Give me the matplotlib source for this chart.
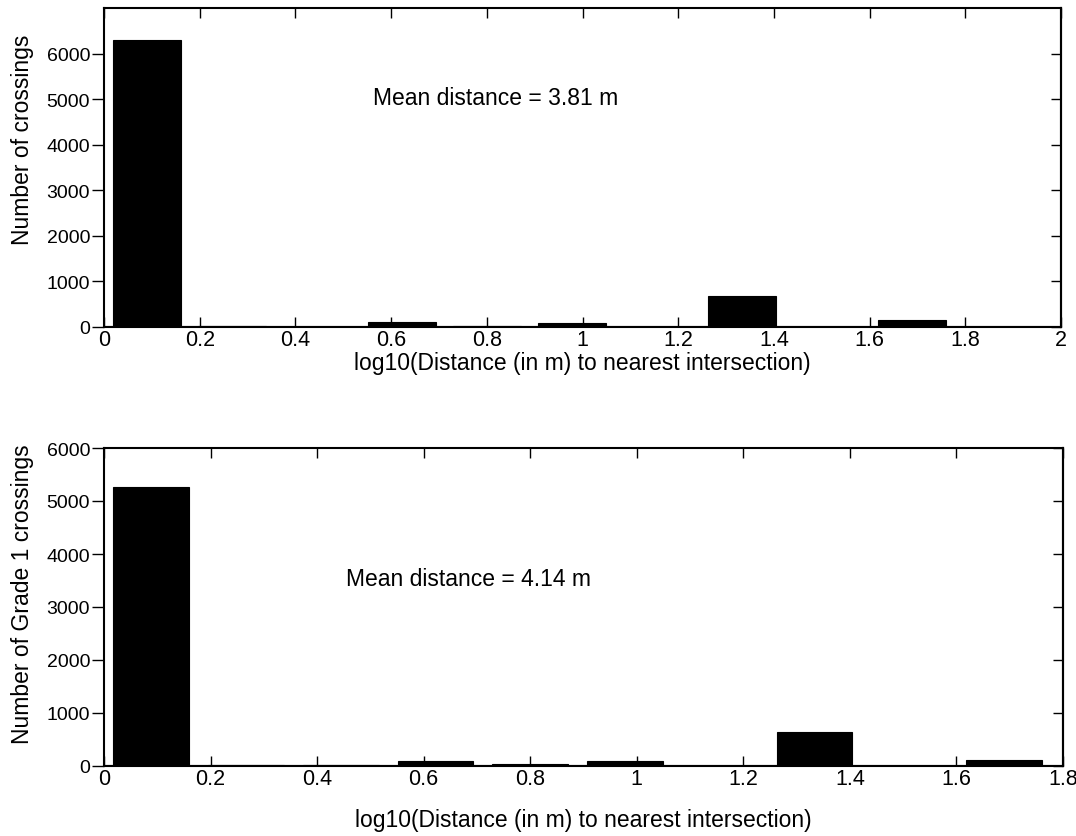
import matplotlib
matplotlib.use("Agg")
import matplotlib.pyplot as plt
import numpy as np

plt.rcParams['font.family'] = ['Liberation Sans', 'DejaVu Sans']

# histogram bin centres (log10 distance), 10 bins
bin_centers = [0.0889, 0.2667, 0.4445, 0.6223, 0.8001, 0.9779, 1.1557, 1.3335, 1.5113, 1.6891]
bin_width = 0.1778

counts_all = [6300, 15, 10, 100, 30, 90, 5, 690, 5, 160]
counts_grade1 = [5270, 10, 10, 100, 30, 100, 5, 640, 5, 120]

xticks_top = [0, 0.2, 0.4, 0.6, 0.8, 1, 1.2, 1.4, 1.6, 1.8, 2]
xticklabels_top = ["0", "0.2", "0.4", "0.6", "0.8", "1", "1.2", "1.4", "1.6", "1.8", "2"]
xticks_bot = [0, 0.2, 0.4, 0.6, 0.8, 1, 1.2, 1.4, 1.6, 1.8]
xticklabels_bot = ["0", "0.2", "0.4", "0.6", "0.8", "1", "1.2", "1.4", "1.6", "1.8"]
yticks_top = [0, 1000, 2000, 3000, 4000, 5000, 6000]
yticks_bot = [0, 1000, 2000, 3000, 4000, 5000, 6000]

xlabel = "log10(Distance (in m) to nearest intersection)"
ylabel_top = "Number of crossings"
ylabel_bot = "Number of Grade 1 crossings"
note_top = "Mean distance = 3.81 m"
note_bot = "Mean distance = 4.14 m"

fig = plt.figure(figsize=(10.76, 8.37), dpi=100)
ax1 = fig.add_axes([104/1076, 1-328/837, 957/1076, 319/837])
ax2 = fig.add_axes([104/1076, 1-767/837, 959/1076, 318/837])

XTFS = 15.5
YTFS = 14
LFS = 16.5

configs = [
    (ax1, counts_all, xticks_top, xticklabels_top, yticks_top, (0, 2), (0, 7000),
     ylabel_top, note_top, (0.562, 5030), -0.11, 0.59),
    (ax2, counts_grade1, xticks_bot, xticklabels_bot, yticks_bot, (0, 1.8), (0, 6000),
     ylabel_bot, note_bot, (0.454, 3530), -0.167, 0.545),
]

for ax, counts, xt, xtl, yt, xlim, ylim, yl, note, npos, xly, yly in configs:
    ax.bar(bin_centers, counts, width=0.8*bin_width, color='black',
           edgecolor='black', linewidth=0.8)
    ax.axhline(0, color='black', lw=1.5)
    ax.set_xlim(*xlim)
    ax.set_ylim(*ylim)
    ax.set_xticks(xt)
    ax.set_xticklabels(xtl)
    ax.set_yticks(yt)
    ax.tick_params(axis='x', direction='in', length=7, width=1, top=True,
                   labelsize=XTFS, pad=1.5)
    ax.tick_params(axis='y', direction='out', length=9, width=1, left=True,
                   right=False, labelsize=YTFS, pad=1)
    sec = ax.secondary_yaxis('right')
    sec.set_yticks(yt)
    sec.set_yticklabels([])
    sec.tick_params(direction='in', length=7, width=1)
    sec.spines['right'].set_linewidth(1.5)
    for s in ax.spines.values():
        s.set_linewidth(1.5)
    ax.set_xlabel(xlabel, fontsize=LFS)
    ax.xaxis.set_label_coords(0.5, xly)
    ax.xaxis.label.set_va('center')
    ax.set_ylabel(yl, fontsize=LFS)
    ax.yaxis.set_label_coords(-0.085, yly)
    ax.yaxis.label.set_va('center')
    ax.text(npos[0], npos[1], note, fontsize=LFS, va='center', ha='left')

for lbl in ax2.get_xticklabels():
    lbl.set_clip_on(False)

fig.savefig("out.png", dpi=100)
